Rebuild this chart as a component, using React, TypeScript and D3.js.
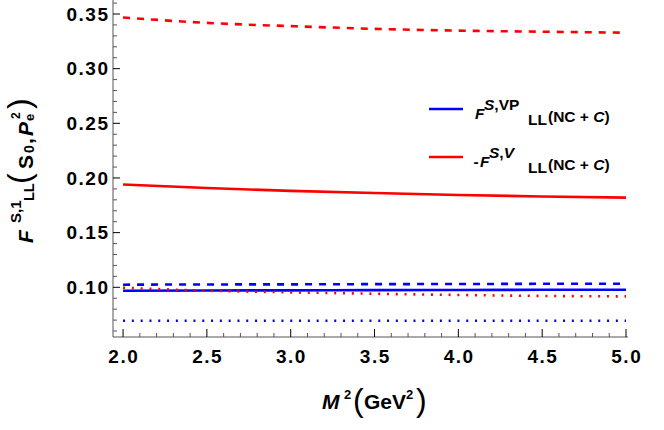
import React from 'react';
import * as d3 from 'd3';

const W = 664;
const H = 430;

// M^2 sample points (GeV^2)
const M2 = [2.0, 2.5, 3.0, 3.5, 4.0, 4.5, 5.0];

// blue: F^{S,VP}_LL
const BLUE_SOLID = [0.0969, 0.0971, 0.0972, 0.0974, 0.0975, 0.0977, 0.0978];
const BLUE_DASHED = [0.1024, 0.1026, 0.1027, 0.1029, 0.103, 0.1032, 0.1033];
const BLUE_DOTTED = [0.0694, 0.0694, 0.0694, 0.0694, 0.0694, 0.0694, 0.0694];

// red: -F^{S,V}_LL
const RED_SOLID = [0.194, 0.1908, 0.1882, 0.1862, 0.1845, 0.1831, 0.182];
const RED_DASHED = [0.3468, 0.3419, 0.3389, 0.3364, 0.3348, 0.3338, 0.3329];
const RED_DOTTED = [0.0996, 0.0969, 0.0954, 0.0941, 0.093, 0.0921, 0.0917];

const X_TICKS = [2.0, 2.5, 3.0, 3.5, 4.0, 4.5, 5.0];
const Y_TICKS = [0.1, 0.15, 0.2, 0.25, 0.3, 0.35];

const FONT = "'Liberation Sans', Arial, sans-serif";

export default function App() {
    const x = d3.scaleLinear().domain([1.94, 5.0]).range([113, 626]);
    const y = d3.scaleLinear().domain([0.1, 0.35]).range([287.3, 14]);
    const yBottom = 337;
    const xLeft = 113;

    const line = (vals: number[]) =>
        d3.line<number>()
            .x((_, i) => x(M2[i]))
            .y(d => y(d))
            .curve(d3.curveNatural)(vals) || '';

    const xMinor = d3.range(20, 51).map(d => d / 10).filter(d => !X_TICKS.some(t => Math.abs(t - d) < 1e-6));
    const yMinor = d3.range(6, 37).map(d => d / 100).filter(d => !Y_TICKS.some(t => Math.abs(t - d) < 1e-6));

    const series = [
        { vals: BLUE_SOLID, color: '#0000ff', dash: undefined },
        { vals: BLUE_DASHED, color: '#0000ff', dash: '7,7' },
        { vals: BLUE_DOTTED, color: '#0000ff', dash: '2,6.8' },
        { vals: RED_SOLID, color: '#ff0000', dash: undefined },
        { vals: RED_DASHED, color: '#ff0000', dash: '7,7' },
        { vals: RED_DOTTED, color: '#ff0000', dash: '2,6.8' },
    ];

    return (
        <svg width={W} height={H} style={{ position: 'absolute', left: 0, top: 0, background: '#fff' }} fontFamily={FONT}>
            {/* curves */}
            {series.map((s, i) => (
                <path key={i} d={line(s.vals)} fill="none" stroke={s.color} strokeWidth={2.6}
                    strokeDasharray={s.dash} />
            ))}

            {/* axes */}
            <line x1={xLeft} x2={xLeft} y1={0} y2={yBottom} stroke="#555" strokeWidth={1} />
            <line x1={xLeft} x2={628} y1={yBottom} y2={yBottom} stroke="#555" strokeWidth={1} />

            {Y_TICKS.map(t => (
                <g key={t}>
                    <line x1={xLeft} x2={xLeft + 7} y1={y(t)} y2={y(t)} stroke="#000" strokeWidth={1} />
                    <text x={109.5} y={y(t) + 6.7} textAnchor="end" fontSize={19} fontWeight="bold" letterSpacing={1.5}>
                        {t.toFixed(2)}
                    </text>
                </g>
            ))}
            {yMinor.map(t => (
                <line key={t} x1={xLeft} x2={xLeft + 4} y1={y(t)} y2={y(t)} stroke="#555" strokeWidth={1} />
            ))}

            {X_TICKS.map(t => (
                <g key={t}>
                    <line x1={x(t)} x2={x(t)} y1={yBottom} y2={yBottom - 8} stroke="#000" strokeWidth={1} />
                    <text x={x(t) + 0.75} y={363} textAnchor="middle" fontSize={19} fontWeight="bold" letterSpacing={1.5}>
                        {t.toFixed(1)}
                    </text>
                </g>
            ))}
            {xMinor.map(t => (
                <line key={t} x1={x(t)} x2={x(t)} y1={yBottom} y2={yBottom - 4} stroke="#555" strokeWidth={1} />
            ))}

            {/* x axis label */}
            <text fontWeight="bold" fontSize={21}>
                <tspan x={322} y={409} fontStyle="italic">M</tspan>
                <tspan x={344} y={399} fontSize={13}>2</tspan>
                <tspan x={353} y={411} fontSize={32} fontWeight="normal">(</tspan>
                <tspan x={364} y={409}>GeV</tspan>
                <tspan x={406} y={399} fontSize={13}>2</tspan>
                <tspan x={416} y={411} fontSize={32} fontWeight="normal">)</tspan>
            </text>

            {/* y axis label (rotated: x = -screenY, y = screenX) */}
            <g transform="rotate(-90)">
                <text fontWeight="bold" fontSize={21}>
                    <tspan x={-243} y={33} fontStyle="italic">F</tspan>
                    <tspan x={-223} y={21} fontSize={15}>S,1</tspan>
                    <tspan x={-201} y={34} fontSize={14.5}>LL</tspan>
                    <tspan x={-184} y={30} fontSize={32} fontWeight="normal">(</tspan>
                    <tspan x={-169} y={33}>S</tspan>
                    <tspan x={-153} y={34} fontSize={14}>0</tspan>
                    <tspan x={-144} y={33}>,</tspan>
                    <tspan x={-136} y={33} fontStyle="italic">P</tspan>
                    <tspan x={-121} y={34} fontSize={13}>e</tspan>
                    <tspan x={-119} y={20} fontSize={12}>2</tspan>
                    <tspan x={-109} y={30} fontSize={32} fontWeight="normal">)</tspan>
                </text>
            </g>

            {/* legend */}
            <line x1={429} x2={463} y1={109} y2={109} stroke="#0000ff" strokeWidth={2.6} />
            <text fontWeight="bold" fontSize={15.5}>
                <tspan x={475} y={119} fontStyle="italic">F</tspan>
                <tspan x={484} y={110} fontStyle="italic">S</tspan>
                <tspan>,VP</tspan>
                <tspan x={528} y={125}>LL</tspan>
                <tspan x={548} y={122}>(NC + </tspan>
                <tspan fontStyle="italic">C</tspan>
                <tspan>)</tspan>
            </text>

            <line x1={429} x2={463} y1={157} y2={157} stroke="#ff0000" strokeWidth={2.6} />
            <text fontWeight="bold" fontSize={15.5}>
                <tspan x={473.5} y={167}>-</tspan>
                <tspan x={480} y={167} fontStyle="italic">F</tspan>
                <tspan x={489} y={158} fontStyle="italic">S</tspan>
                <tspan>,</tspan>
                <tspan fontStyle="italic">V</tspan>
                <tspan x={528} y={173}>LL</tspan>
                <tspan x={548} y={170}>(NC + </tspan>
                <tspan fontStyle="italic">C</tspan>
                <tspan>)</tspan>
            </text>
        </svg>
    );
}
